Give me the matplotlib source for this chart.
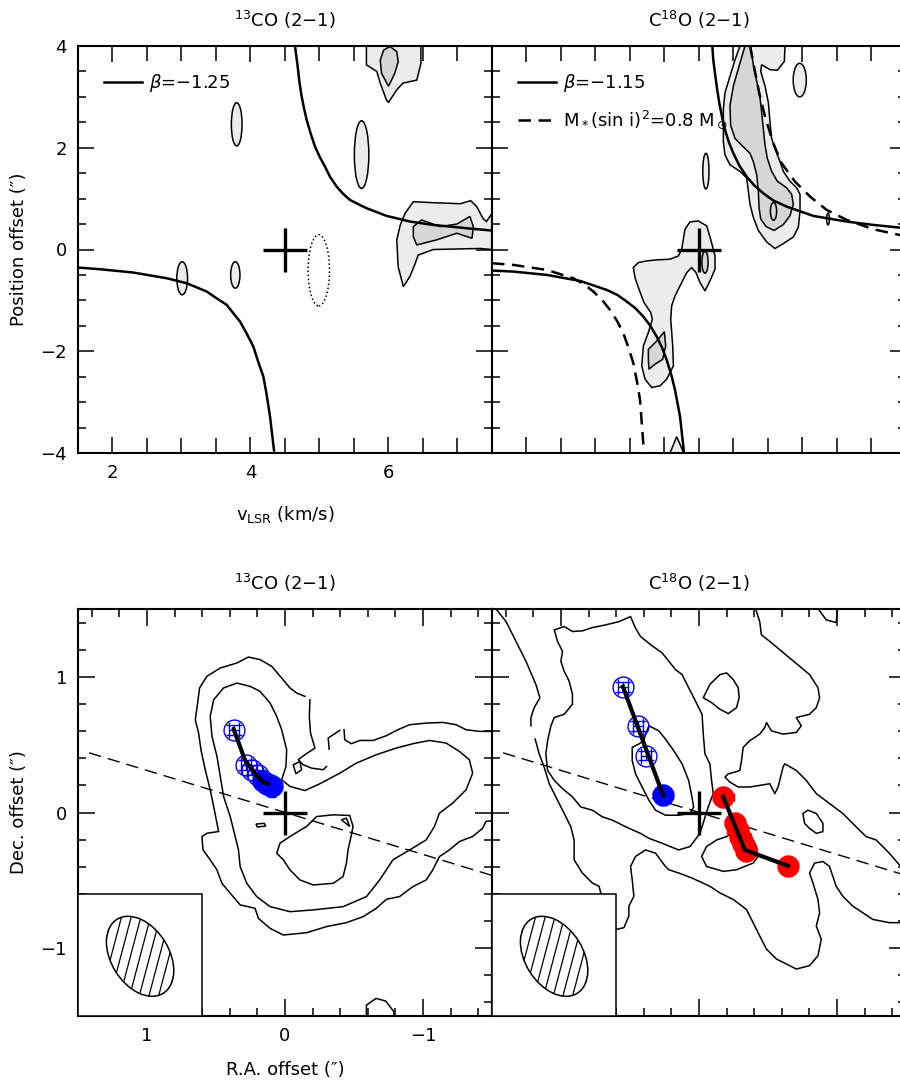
import matplotlib
matplotlib.use("Agg")
import matplotlib.pyplot as plt
from matplotlib.patches import Ellipse, Polygon, Rectangle
from matplotlib.ticker import MultipleLocator

plt.rcParams['font.family'] = ['DejaVu Sans']
plt.rcParams['mathtext.fontset'] = 'dejavusans'

LIGHT = '#ececec'
DARK = '#d6d6d6'

# ---------------- top row: position-velocity data ----------------
v_sys = 4.5

# 13CO (2-1) PV contours (v [km/s], offset [arcsec])
co13_pv_outer_top = [(5.68, 4.0), (5.68, 3.63), (5.83, 3.50), (5.88, 3.27), (5.97, 2.94), (6.00, 2.89),
                     (6.12, 3.14), (6.21, 3.27), (6.41, 3.33), (6.47, 3.66), (6.47, 4.0)]
co13_pv_inner_top = [(5.88, 3.72), (5.93, 3.92), (6.02, 3.99), (6.12, 3.89), (6.14, 3.69), (6.09, 3.46),
                     (6.00, 3.21), (5.90, 3.46)]
co13_pv_outer_right = [(6.215, -0.73), (6.14, -0.34), (6.12, 0.19), (6.17, 0.48), (6.24, 0.71), (6.36, 0.94),
                       (6.65, 0.92), (7.04, 0.90), (7.19, 0.96), (7.28, 0.84), (7.37, 0.61), (7.42, 0.55),
                       (7.50, 0.71), (7.50, 0.0), (7.33, 0.02), (6.65, 0.0), (6.43, -0.11), (6.38, -0.30),
                       (6.31, -0.53)]
co13_pv_inner_right = [(6.36, 0.45), (6.48, 0.58), (6.75, 0.45), (6.99, 0.50), (7.18, 0.65), (7.23, 0.45),
                       (7.21, 0.22), (6.99, 0.32), (6.70, 0.19), (6.41, 0.09), (6.36, 0.25)]
# small blobs: (v, offset, width, height)
co13_pv_blobs = [(3.80, 2.46, 0.155, 0.85), (5.61, 1.865, 0.21, 1.33), (3.01, -0.565, 0.155, 0.65),
                 (3.78, -0.50, 0.135, 0.52)]
co13_pv_negative = [(4.99, -0.41, 0.31, 1.40)]

co13_model_up_v = [4.645, 4.684, 4.708, 4.742, 4.775, 4.814, 4.872, 4.935, 5.007, 5.080, 5.152, 5.249,
                   5.345, 5.442, 5.563, 5.684, 5.973, 6.312, 6.650, 7.133, 7.50]
co13_model_up_y = [4.0, 3.594, 3.30, 3.005, 2.78, 2.546, 2.28, 2.022, 1.81, 1.629, 1.43, 1.236,
                   1.09, 0.974, 0.89, 0.811, 0.660, 0.549, 0.483, 0.418, 0.372]
co13_model_lo_v = [1.50, 1.819, 2.302, 2.785, 3.075, 3.365, 3.51, 3.655, 3.75, 3.848, 3.94, 4.041,
                   4.11, 4.186, 4.23, 4.283, 4.341]
co13_model_lo_y = [-0.355, -0.388, -0.453, -0.565, -0.663, -0.826, -0.96, -1.088, -1.25, -1.416, -1.64,
                   -1.907, -2.20, -2.496, -2.82, -3.282, -3.95]

# C18O (2-1) PV contours
c18o_pv_outer_upper = [(5.094, 4.0), (5.022, 3.729), (4.949, 3.406), (4.877, 3.084), (4.853, 2.761),
                       (4.853, 2.439), (4.853, 2.116), (4.877, 1.858), (4.949, 1.665), (5.094, 1.535),
                       (5.191, 1.406), (5.215, 1.148), (5.239, 0.890), (5.287, 0.632), (5.360, 0.374),
                       (5.481, 0.148), (5.601, 0.019), (5.722, 0.116), (5.867, 0.245), (5.940, 0.439),
                       (5.964, 0.761), (5.964, 1.084), (5.915, 1.213), (5.819, 1.342), (5.722, 1.535),
                       (5.674, 1.729), (5.601, 1.987), (5.553, 2.181), (5.529, 2.503), (5.505, 2.890),
                       (5.457, 3.213), (5.394, 3.503), (5.408, 3.632), (5.529, 3.535), (5.635, 3.523),
                       (5.737, 3.697), (5.746, 4.0)]
c18o_pv_inner_upper = [(5.167, 4.0), (5.094, 3.665), (4.998, 3.213), (4.949, 2.826), (4.959, 2.439),
                       (5.022, 2.181), (5.142, 2.019), (5.239, 1.890), (5.287, 1.729), (5.336, 1.471),
                       (5.360, 1.148), (5.370, 0.826), (5.394, 0.600), (5.471, 0.452), (5.587, 0.374),
                       (5.722, 0.490), (5.819, 0.665), (5.867, 0.890), (5.843, 1.084), (5.770, 1.213),
                       (5.635, 1.342), (5.553, 1.535), (5.490, 1.794), (5.457, 2.052), (5.432, 2.374),
                       (5.408, 2.697), (5.384, 2.987), (5.336, 3.310), (5.287, 3.632), (5.249, 4.0)]
c18o_pv_outer_lower = [(4.297, 0.398), (4.370, 0.542), (4.490, 0.562), (4.611, 0.464), (4.669, 0.202),
                       (4.732, -0.126), (4.732, -0.388), (4.659, -0.617), (4.587, -0.813), (4.514, -0.650),
                       (4.456, -0.453), (4.394, -0.355), (4.322, -0.453), (4.225, -0.715), (4.153, -0.911),
                       (4.104, -1.108), (4.090, -1.370), (4.119, -1.894), (4.129, -2.287), (4.032, -2.549),
                       (3.935, -2.680), (3.814, -2.713), (3.718, -2.549), (3.670, -2.287), (3.694, -1.894),
                       (3.766, -1.632), (3.824, -1.370), (3.800, -1.239), (3.703, -1.042), (3.630, -0.780),
                       (3.572, -0.551), (3.548, -0.355), (3.621, -0.257), (3.742, -0.224), (3.887, -0.204),
                       (4.080, -0.191), (4.201, -0.126), (4.249, 0.005), (4.273, 0.202)]
c18o_pv_inner_lower = [(3.766, -1.963), (3.887, -1.800), (3.998, -1.616), (4.017, -1.898), (3.973, -2.160),
                       (3.862, -2.255), (3.775, -2.353), (3.766, -2.160)]
c18o_pv_edge = [(4.08, -4.0), (4.176, -3.68), (4.28, -4.0)]
c18o_pv_blobs_light = [(5.96, 3.33, 0.19, 0.66), (4.60, 1.54, 0.09, 0.70), (6.37, 0.60, 0.04, 0.23)]
c18o_pv_blobs_dark = [(5.58, 0.75, 0.09, 0.35), (4.587, -0.25, 0.09, 0.43)]

c18o_model_up_v = [4.693, 4.707, 4.732, 4.761, 4.795, 4.833, 4.877, 4.930, 4.998, 5.085, 5.191, 5.302,
                   5.432, 5.577, 5.771, 6.157, 6.640, 7.027, 7.403, 7.50]
c18o_model_up_y = [4.0, 3.725, 3.463, 3.168, 2.874, 2.612, 2.350, 2.121, 1.891, 1.649, 1.433, 1.258,
                   1.105, 0.963, 0.843, 0.660, 0.549, 0.483, 0.431, 0.42]
c18o_model_lo_v = [1.50, 1.809, 2.292, 2.775, 3.162, 3.316, 3.452, 3.577, 3.693, 3.795, 3.886, 3.964,
                   4.031, 4.099, 4.152, 4.225, 4.283]
c18o_model_lo_y = [-0.414, -0.434, -0.499, -0.617, -0.794, -0.892, -1.023, -1.154, -1.318, -1.501, -1.710,
                   -1.927, -2.169, -2.464, -2.758, -3.282, -4.0]
kepler_up_v = [5.239, 5.297, 5.374, 5.457, 5.577, 5.698, 5.891, 6.109, 6.350, 6.640, 7.027, 7.403, 7.50]
kepler_up_y = [4.0, 3.594, 3.070, 2.612, 2.088, 1.695, 1.335, 1.040, 0.778, 0.582, 0.398, 0.287, 0.27]
kepler_lo_v = [1.50, 1.809, 2.292, 2.679, 2.833, 2.969, 3.094, 3.210, 3.312, 3.403, 3.481, 3.548, 3.601,
               3.645, 3.703]
kepler_lo_y = [-0.270, -0.303, -0.401, -0.565, -0.682, -0.826, -0.990, -1.187, -1.403, -1.645, -1.940,
               -2.234, -2.595, -2.955, -4.0]

# ---------------- bottom row: integrated maps (RA, Dec offsets in arcsec) ----------------
co13_map_outer_a = [(-0.144, 0.856), (-0.084, 0.881), (-0.036, 0.918), (0.024, 0.991), (0.096, 1.077),
                    (0.181, 1.127), (0.265, 1.146), (0.349, 1.102), (0.469, 1.065), (0.566, 1.004),
                    (0.619, 0.918), (0.633, 0.807), (0.650, 0.684), (0.626, 0.585), (0.609, 0.462),
                    (0.578, 0.315), (0.542, 0.167), (0.517, 0.044), (0.498, -0.054), (0.481, -0.140),
                    (0.566, -0.153), (0.602, -0.177), (0.594, -0.276), (0.542, -0.349), (0.493, -0.423),
                    (0.457, -0.522), (0.397, -0.595), (0.325, -0.681), (0.217, -0.706), (0.193, -0.780),
                    (0.108, -0.854), (0.012, -0.903), (-0.156, -0.886), (-0.301, -0.841), (-0.445, -0.812),
                    (-0.566, -0.768), (-0.662, -0.706), (-0.734, -0.640), (-0.830, -0.620), (-0.927, -0.546),
                    (-1.023, -0.497), (-1.071, -0.423), (-1.119, -0.325), (-1.191, -0.276), (-1.264, -0.214),
                    (-1.360, -0.177), (-1.432, -0.116), (-1.456, -0.066), (-1.51, -0.059)]
co13_map_outer_b = [(-1.51, 0.598), (-1.408, 0.598), (-1.312, 0.610), (-1.239, 0.647), (-1.143, 0.664),
                    (-1.023, 0.659), (-0.903, 0.647), (-0.818, 0.610), (-0.734, 0.566), (-0.638, 0.531),
                    (-0.542, 0.531), (-0.481, 0.507), (-0.433, 0.536), (-0.428, 0.610)]
co13_map_outer_c = [(-0.181, 0.831), (-0.176, 0.708), (-0.185, 0.585), (-0.217, 0.475), (-0.144, 0.426),
                    (-0.096, 0.389), (-0.132, 0.352), (-0.193, 0.327), (-0.277, 0.315), (-0.301, 0.339)]
co13_map_outer_d = [(-0.320, 0.467), (-0.313, 0.549), (-0.397, 0.605)]
co13_map_inner = [(0.349, 0.954), (0.253, 0.930), (0.181, 0.893), (0.108, 0.807), (0.060, 0.708),
                  (0.024, 0.610), (-0.012, 0.462), (-0.007, 0.339), (0.024, 0.241), (-0.036, 0.192),
                  (-0.144, 0.162), (-0.253, 0.212), (-0.397, 0.290), (-0.517, 0.364), (-0.662, 0.426),
                  (-0.806, 0.475), (-0.927, 0.507), (-1.047, 0.531), (-1.167, 0.512), (-1.264, 0.450),
                  (-1.336, 0.389), (-1.360, 0.290), (-1.312, 0.167), (-1.215, 0.069), (-1.119, -0.005),
                  (-1.083, -0.103), (-1.023, -0.202), (-0.903, -0.276), (-0.782, -0.349), (-0.686, -0.497),
                  (-0.590, -0.620), (-0.421, -0.694), (-0.205, -0.718), (-0.036, -0.731), (0.108, -0.694),
                  (0.205, -0.620), (0.277, -0.522), (0.325, -0.399), (0.337, -0.276), (0.361, -0.177),
                  (0.397, -0.030), (0.445, 0.118), (0.469, 0.266), (0.493, 0.413), (0.529, 0.561),
                  (0.542, 0.708), (0.517, 0.831), (0.445, 0.918)]
co13_map_hole = [(0.060, -0.300), (0.036, -0.226), (-0.036, -0.177), (-0.156, -0.103), (-0.229, -0.030),
                 (-0.349, -0.017), (-0.469, -0.022), (-0.493, -0.103), (-0.481, -0.165), (-0.457, -0.276),
                 (-0.445, -0.374), (-0.421, -0.472), (-0.349, -0.522), (-0.205, -0.534), (-0.108, -0.497),
                 (-0.036, -0.423), (0.012, -0.349)]
co13_map_small = [[(-0.409, -0.054), (-0.445, -0.042), (-0.469, -0.103)],
                  [(-0.060, 0.352), (-0.108, 0.376), (-0.120, 0.315), (-0.079, 0.285)],
                  [(0.21, -0.085), (0.15, -0.080), (0.14, -0.100), (0.20, -0.107)]]
co13_map_edge = [(-0.59, -1.52), (-0.59, -1.42), (-0.66, -1.37), (-0.73, -1.39), (-0.79, -1.47), (-0.79, -1.52)]

c18o_map_c1a = [(1.471, 1.50), (1.398, 1.407), (1.326, 1.261), (1.254, 1.115), (1.182, 0.944), (1.153, 0.846),
                (1.194, 0.773), (1.218, 0.700), (1.218, 0.639)]
c18o_map_c1b = [(1.187, 0.541), (1.158, 0.432), (1.122, 0.334), (1.085, 0.212), (1.025, 0.090), (0.977, -0.007),
                (0.929, -0.105), (0.905, -0.202), (0.905, -0.349), (0.845, -0.446), (0.773, -0.520),
                (0.724, -0.544), (0.712, -0.593), (0.65, -0.75), (0.597, -0.861), (0.544, -0.849),
                (0.508, -0.763), (0.508, -0.690), (0.472, -0.617), (0.484, -0.495), (0.496, -0.398),
                (0.460, -0.324), (0.387, -0.276), (0.315, -0.300), (0.243, -0.398), (0.219, -0.422),
                (0.147, -0.446), (0.051, -0.483), (-0.079, -0.544), (-0.152, -0.593), (-0.248, -0.641),
                (-0.344, -0.715), (-0.392, -0.812), (-0.440, -0.910), (-0.489, -1.007), (-0.561, -1.080),
                (-0.657, -1.129), (-0.705, -1.154), (-0.801, -1.129), (-0.862, -1.056), (-0.886, -0.934),
                (-0.850, -0.837), (-0.874, -0.739), (-0.862, -0.641), (-0.826, -0.520), (-0.801, -0.446),
                (-0.838, -0.373), (-0.898, -0.361), (-0.946, -0.398), (-0.994, -0.544), (-1.042, -0.617),
                (-1.114, -0.690), (-1.187, -0.739), (-1.259, -0.788), (-1.379, -0.812), (-1.52, -0.812)]
c18o_map_c4 = [(-0.404, 1.52), (-0.440, 1.407), (-0.452, 1.310), (-0.513, 1.261), (-0.585, 1.200),
               (-0.657, 1.139), (-0.729, 1.078), (-0.801, 1.017), (-0.862, 0.920), (-0.874, 0.846),
               (-0.850, 0.773), (-0.801, 0.724), (-0.705, 0.700), (-0.741, 0.639), (-0.705, 0.590),
               (-0.609, 0.578), (-0.525, 0.602), (-0.489, 0.663), (-0.477, 0.627), (-0.440, 0.578),
               (-0.368, 0.529), (-0.320, 0.480), (-0.308, 0.383), (-0.296, 0.310), (-0.260, 0.298),
               (-0.212, 0.285), (-0.188, 0.261), (-0.224, 0.224), (-0.284, 0.188), (-0.368, 0.188),
               (-0.440, 0.200), (-0.513, 0.212), (-0.549, 0.139), (-0.573, 0.188), (-0.609, 0.334),
               (-0.621, 0.359), (-0.705, 0.310), (-0.777, 0.237), (-0.850, 0.139), (-0.946, 0.066),
               (-1.042, -0.007), (-1.138, -0.105), (-1.211, -0.178), (-1.283, -0.202), (-1.379, -0.300),
               (-1.451, -0.385), (-1.52, -0.43)]
c18o_map_c2 = [(1.049, 1.346), (0.977, 1.371), (0.917, 1.334), (0.845, 1.339), (0.773, 1.363), (0.676, 1.383),
               (0.580, 1.407), (0.496, 1.444), (0.460, 1.359), (0.424, 1.298), (0.351, 1.237), (0.267, 1.176),
               (0.219, 1.115), (0.171, 1.054), (0.123, 1.017), (0.075, 0.920), (0.026, 0.822), (-0.022, 0.724),
               (-0.031, 0.578), (-0.043, 0.432), (-0.079, 0.359), (-0.091, 0.237), (-0.103, 0.139),
               (-0.067, 0.041), (-0.007, -0.154), (0.065, -0.251), (0.147, -0.276), (0.267, -0.227),
               (0.363, -0.190), (0.424, -0.154), (0.532, -0.105), (0.628, -0.056), (0.700, -0.032),
               (0.773, 0.017), (0.857, 0.041), (0.917, 0.115), (0.989, 0.176), (1.049, 0.237), (1.097, 0.310),
               (1.110, 0.432), (1.097, 0.529), (1.073, 0.639), (1.049, 0.700), (0.977, 0.724), (0.917, 0.798),
               (0.917, 0.871), (0.941, 0.968), (0.977, 1.041), (1.001, 1.115), (0.989, 1.188), (1.025, 1.261)]
c18o_map_c3 = [(0.363, 0.639), (0.291, 0.602), (0.243, 0.541), (0.183, 0.456), (0.123, 0.359), (0.075, 0.237),
               (0.051, 0.115), (0.039, 0.041), (0.063, -0.007), (0.147, -0.020), (0.243, -0.020), (0.315, 0.017),
               (0.363, 0.090), (0.412, 0.188), (0.460, 0.285), (0.484, 0.383), (0.484, 0.480), (0.436, 0.505),
               (0.400, 0.529), (0.387, 0.578)]
c18o_map_c6 = [(-0.031, 0.846), (-0.079, 0.944), (-0.152, 1.017), (-0.200, 1.029), (-0.248, 0.980),
               (-0.284, 0.920), (-0.291, 0.846), (-0.272, 0.773), (-0.212, 0.729), (-0.152, 0.761), (-0.091, 0.810)]
c18o_map_c7 = [(-0.753, -0.007), (-0.789, 0.017), (-0.850, -0.007), (-0.898, -0.080), (-0.898, -0.141),
               (-0.850, -0.154), (-0.801, -0.117), (-0.765, -0.080)]
c18o_map_c8 = [(-0.055, -0.251), (-0.128, -0.202), (-0.200, -0.178), (-0.272, -0.129), (-0.368, -0.154),
               (-0.416, -0.251), (-0.428, -0.324), (-0.392, -0.373), (-0.272, -0.422), (-0.176, -0.434),
               (-0.055, -0.398), (-0.019, -0.324)]
c18o_map_top = [(-0.850, 1.52), (-0.922, 1.42), (-0.994, 1.40), (-1.006, 1.52)]

pa_line_ra = [1.42, -1.52]
pa_line_dec = [0.44, -0.47]

# peak positions
co13_blue_ra = [0.368, 0.284, 0.241, 0.193]
co13_blue_dec = [0.610, 0.352, 0.315, 0.278]
co13_bluef_ra = [0.156, 0.130, 0.110, 0.096]
co13_bluef_dec = [0.229, 0.212, 0.200, 0.192]
co13_track_ra = [0.373, 0.289, 0.205, 0.156, 0.120]
co13_track_dec = [0.617, 0.383, 0.273, 0.224, 0.212]

c18o_blue_ra = [0.551, 0.443, 0.383]
c18o_blue_dec = [0.927, 0.639, 0.420]
c18o_bluef_ra = [0.260]
c18o_bluef_dec = [0.127]
c18o_blue_track_ra = [0.551, 0.260]
c18o_blue_track_dec = [0.927, 0.127]
c18o_red_ra = [-0.176, -0.260, -0.280, -0.300, -0.320, -0.340, -0.645]
c18o_red_dec = [0.115, -0.080, -0.130, -0.180, -0.230, -0.285, -0.393]
c18o_red_track_ra = [-0.176, -0.332, -0.645]
c18o_red_track_dec = [0.115, -0.276, -0.393]

beam_ra, beam_dec = 1.05, -1.06
beam_major, beam_minor, beam_angle = 0.64, 0.42, 59

# ---------------- helpers ----------------
def region(ax, pts, fc):
    ax.add_patch(Polygon(pts, closed=True, fc=fc, ec='black', lw=1.1, zorder=2))

def loop(ax, pts):
    ax.add_patch(Polygon(pts, closed=True, fill=False, ec='black', lw=1.1, zorder=2))

def path(ax, pts, **kw):
    xs, ys = zip(*pts)
    ax.plot(xs, ys, color='black', lw=1.1, zorder=2, **kw)

def blobs(ax, items, fc, ls='-'):
    for x, y, w, h in items:
        ax.add_patch(Ellipse((x, y), w, h, fc=fc, ec='black', lw=1.1, ls=ls,
                             fill=fc is not None, zorder=2))

def frame(ax, xmaj, xmin, ymaj, ymin, lens):
    ax.xaxis.set_major_locator(MultipleLocator(xmaj))
    ax.xaxis.set_minor_locator(MultipleLocator(xmin))
    ax.yaxis.set_major_locator(MultipleLocator(ymaj))
    ax.yaxis.set_minor_locator(MultipleLocator(ymin))
    ax.tick_params(which='both', direction='in', top=True, right=True, width=1.1,
                   labelsize=13, pad=8)
    ax.tick_params(axis='x', which='major', length=lens[0])
    ax.tick_params(axis='x', which='minor', length=lens[1])
    ax.tick_params(axis='y', which='major', length=lens[2])
    ax.tick_params(axis='y', which='minor', length=lens[3])
    for s in ax.spines.values():
        s.set_linewidth(1.5)

def star(ax, x, y):
    ax.plot([x], [y], marker='+', ms=31, mew=2.4, color='black', zorder=6)

def beam(ax):
    ax.add_patch(Rectangle((1.5, -1.5), -0.9, 0.9, fc='white', ec='black', lw=1.1, zorder=7))
    ell = Ellipse((beam_ra, beam_dec), beam_major, beam_minor, angle=beam_angle,
                  fc='none', ec='black', lw=1.1, zorder=9)
    ax.add_patch(ell)
    for k in range(-7, 8):
        d = k * 0.07
        ln, = ax.plot([beam_ra + d + 0.13, beam_ra + d - 0.13], [beam_dec - 0.5, beam_dec + 0.5],
                      color='black', lw=0.9, zorder=8)
        ln.set_clip_path(ell)

def peaks(ax, ra, dec, fill, color, err, cap):
    ax.errorbar(ra, dec, xerr=err, yerr=err, fmt='o', ms=15, mew=1.0,
                mfc=color if fill else 'none', mec=color, ecolor=color,
                elinewidth=1.0, capsize=cap, capthick=1.0, zorder=4)

# ---------------- figure ----------------
fig = plt.figure(figsize=(9, 10.9), dpi=100)
W, H = 900.0, 1090.0
ax1 = fig.add_axes([78 / W, 1 - 453 / H, 414 / W, 407 / H])
ax2 = fig.add_axes([492 / W, 1 - 453 / H, 414 / W, 407 / H])
ax3 = fig.add_axes([78 / W, 1 - 1016 / H, 414 / W, 407 / H])
ax4 = fig.add_axes([492 / W, 1 - 1016 / H, 414 / W, 407 / H])

# panel 1: 13CO PV
region(ax1, co13_pv_outer_top, LIGHT)
region(ax1, co13_pv_inner_top, DARK)
region(ax1, co13_pv_outer_right, LIGHT)
region(ax1, co13_pv_inner_right, DARK)
blobs(ax1, co13_pv_blobs, LIGHT)
blobs(ax1, co13_pv_negative, None, ls=':')
ax1.plot(co13_model_up_v, co13_model_up_y, color='black', lw=1.8, zorder=5, label=r'$\beta$=$-$1.25')
ax1.plot(co13_model_lo_v, co13_model_lo_y, color='black', lw=1.8, zorder=5)
star(ax1, v_sys, 0)
ax1.set_xlim(1.5, 7.5)
ax1.set_ylim(-4, 4)
frame(ax1, 2, 0.5, 2, 0.5, (11.5, 11, 11.5, 5.8))
ax1.set_title(r'$^{13}$CO (2$-$1)', fontsize=13, pad=14)
ax1.set_xlabel(r'v$_{\rm LSR}$ (km/s)', fontsize=13)
ax1.set_ylabel('Position offset (\u2033)', fontsize=13)
ax1.xaxis.set_label_coords(0.5, -0.125)
ax1.yaxis.set_label_coords(-0.12, 0.5)
ax1.legend(loc='upper left', bbox_to_anchor=(0.062, 0.935), frameon=False, fontsize=13,
           handlelength=2.1, handletextpad=0.4, borderpad=0, borderaxespad=0)

# panel 2: C18O PV
region(ax2, c18o_pv_outer_upper, LIGHT)
region(ax2, c18o_pv_inner_upper, DARK)
region(ax2, c18o_pv_outer_lower, LIGHT)
region(ax2, c18o_pv_inner_lower, DARK)
region(ax2, c18o_pv_edge, LIGHT)
blobs(ax2, c18o_pv_blobs_light, LIGHT)
blobs(ax2, c18o_pv_blobs_dark, DARK)
ax2.plot(c18o_model_up_v, c18o_model_up_y, color='black', lw=1.8, zorder=5, label=r'$\beta$=$-$1.15')
ax2.plot(c18o_model_lo_v, c18o_model_lo_y, color='black', lw=1.8, zorder=5)
ax2.plot(kepler_up_v, kepler_up_y, color='black', lw=1.8, ls=(0, (5, 3)), zorder=5,
         label=r'M$_*$(sin i)$^2$=0.8 M$_\odot$')
ax2.plot(kepler_lo_v, kepler_lo_y, color='black', lw=1.8, ls=(0, (5, 3)), zorder=5)
star(ax2, v_sys, 0)
ax2.set_xlim(1.5, 7.5)
ax2.set_ylim(-4, 4)
frame(ax2, 2, 0.5, 2, 0.5, (11.5, 11, 11.5, 5.8))
ax2.tick_params(labelleft=False, labelbottom=False)
ax2.set_title(r'C$^{18}$O (2$-$1)', fontsize=13, pad=14)
ax2.legend(loc='upper left', bbox_to_anchor=(0.062, 0.935), frameon=False, fontsize=13,
           handlelength=2.1, handletextpad=0.4, borderpad=0, borderaxespad=0, labelspacing=0.8)

# panel 3: 13CO map
path(ax3, co13_map_outer_a)
path(ax3, co13_map_outer_b)
path(ax3, co13_map_outer_c)
path(ax3, co13_map_outer_d)
loop(ax3, co13_map_inner)
loop(ax3, co13_map_hole)
for pts in co13_map_small:
    loop(ax3, pts)
path(ax3, co13_map_edge)
ax3.plot(pa_line_ra, pa_line_dec, color='black', lw=1.0, ls=(0, (9, 5)), zorder=3)
peaks(ax3, co13_blue_ra, co13_blue_dec, False, 'blue', 0.036, 6)
peaks(ax3, co13_bluef_ra, co13_bluef_dec, True, 'blue', 0.075, 3)
ax3.plot(co13_track_ra, co13_track_dec, color='black', lw=3, zorder=5, solid_capstyle='round')
star(ax3, 0, 0)
beam(ax3)
ax3.set_xlim(1.5, -1.5)
ax3.set_ylim(-1.5, 1.5)
frame(ax3, 1, 0.2, 1, 0.2, (12.2, 5.8, 12.2, 5.8))
ax3.set_title(r'$^{13}$CO (2$-$1)', fontsize=13, pad=14)
ax3.set_xlabel('R.A. offset (\u2033)', fontsize=13)
ax3.set_ylabel('Dec. offset (\u2033)', fontsize=13)
ax3.xaxis.set_label_coords(0.5, -0.11)
ax3.yaxis.set_label_coords(-0.12, 0.5)

# panel 4: C18O map
path(ax4, c18o_map_c1a)
path(ax4, c18o_map_c1b)
path(ax4, c18o_map_c4)
path(ax4, c18o_map_top)
for pts in (c18o_map_c2, c18o_map_c3, c18o_map_c6, c18o_map_c7, c18o_map_c8):
    loop(ax4, pts)
ax4.plot(pa_line_ra, pa_line_dec, color='black', lw=1.0, ls=(0, (9, 5)), zorder=3)
peaks(ax4, c18o_blue_ra, c18o_blue_dec, False, 'blue', 0.036, 6)
peaks(ax4, c18o_bluef_ra, c18o_bluef_dec, True, 'blue', 0.075, 3)
peaks(ax4, c18o_red_ra, c18o_red_dec, True, 'red', 0.075, 3)
ax4.plot(c18o_blue_track_ra, c18o_blue_track_dec, color='black', lw=3, zorder=5)
ax4.plot(c18o_red_track_ra, c18o_red_track_dec, color='black', lw=3, zorder=5)
star(ax4, 0, 0)
beam(ax4)
ax4.set_xlim(1.5, -1.5)
ax4.set_ylim(-1.5, 1.5)
frame(ax4, 1, 0.2, 1, 0.2, (12.2, 5.8, 12.2, 5.8))
ax4.tick_params(labelleft=False, labelbottom=False)
ax4.set_title(r'C$^{18}$O (2$-$1)', fontsize=13, pad=14)

fig.savefig('out.png', dpi=100)
